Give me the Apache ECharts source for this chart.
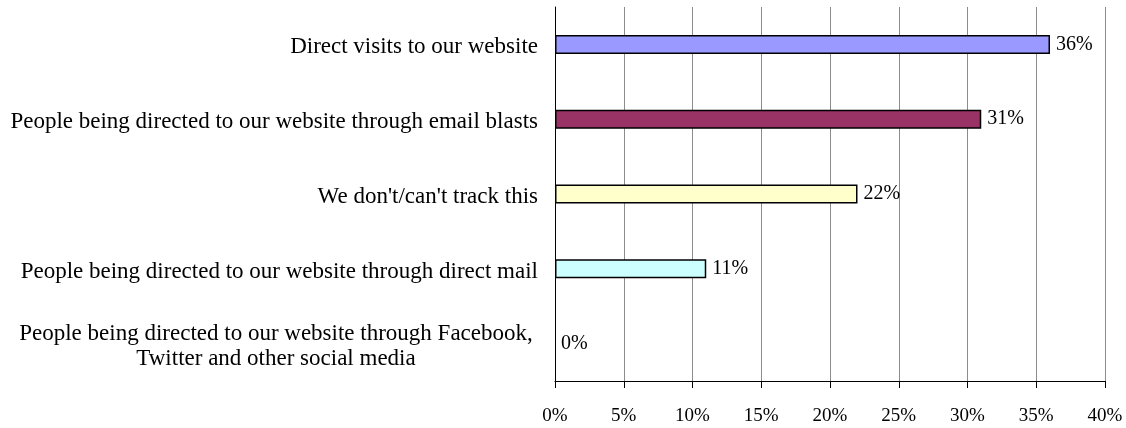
<!DOCTYPE html>
<html>
<head>
<meta charset="utf-8">
<script src="https://cdn.jsdelivr.net/npm/echarts@6/dist/echarts.min.js"></script>
<style>
  html, body { margin: 0; padding: 0; background: #fff; }
  #chart { width: 1126px; height: 428px; }
</style>
</head>
<body>
<div id="chart"></div>
<script>
// Where website traffic comes from (share of respondents)
const categories = [
  'Direct visits to our website',
  'People being directed to our website through email blasts',
  "We don't/can't track this",
  'People being directed to our website through direct mail',
  'People being directed to our website through Facebook,\nTwitter and other social media'
];
const values = [36, 31, 22, 11, 0];
const barColors = ['#9999FF', '#993366', '#FFFFCC', '#CCFFFF', '#FFFFFF'];
const xTicks = { min: 0, max: 40, step: 5 };

const FONT = 'Liberation Serif';

const chart = echarts.init(document.getElementById('chart'), null, { renderer: 'canvas' });

chart.setOption({
  animation: false,
  backgroundColor: '#ffffff',
  grid: { left: 555, right: 21, top: 7, bottom: 47, containLabel: false },
  xAxis: {
    type: 'value',
    min: xTicks.min,
    max: xTicks.max,
    interval: xTicks.step,
    axisLine: { show: true, lineStyle: { color: '#000', width: 1 } },
    axisTick: { show: true, length: 7, lineStyle: { color: '#000', width: 1 } },
    axisLabel: {
      formatter: '{value}%',
      color: '#000',
      fontFamily: FONT,
      fontSize: 19,
      margin: 26
    },
    splitLine: { show: true, lineStyle: { color: '#8c8c8c', width: 1 } }
  },
  yAxis: {
    type: 'category',
    data: categories,
    inverse: true,
    axisLine: { show: true, onZero: false, lineStyle: { color: '#000', width: 1 } },
    axisTick: { show: false },
    splitLine: { show: false },
    axisLabel: {
      color: '#000',
      fontFamily: FONT,
      fontSize: 23,
      margin: 17,
      lineHeight: 25,
      padding: [6, 0, 0, 0],
      formatter: function (v) {
        if (v.indexOf('\n') < 0) return v;
        return v.split('\n').map(function (l) { return '{c|' + l + '}'; }).join('\n');
      },
      rich: {
        c: { width: 524, align: 'center', fontFamily: FONT, fontSize: 23, color: '#000', lineHeight: 25 }
      }
    }
  },
  series: [{
    type: 'bar',
    barWidth: 19,
    data: values.map(function (v, i) {
      return {
        value: v,
        itemStyle: { color: barColors[i], borderWidth: v === 0 ? 0 : 1.5 }
      };
    }),
    itemStyle: { borderColor: '#000', borderWidth: 1.5 },
    label: {
      show: true,
      position: 'right',
      distance: 6,
      formatter: '{c}%',
      color: '#000',
      fontFamily: FONT,
      fontSize: 20
    }
  }]
});
</script>
</body>
</html>
